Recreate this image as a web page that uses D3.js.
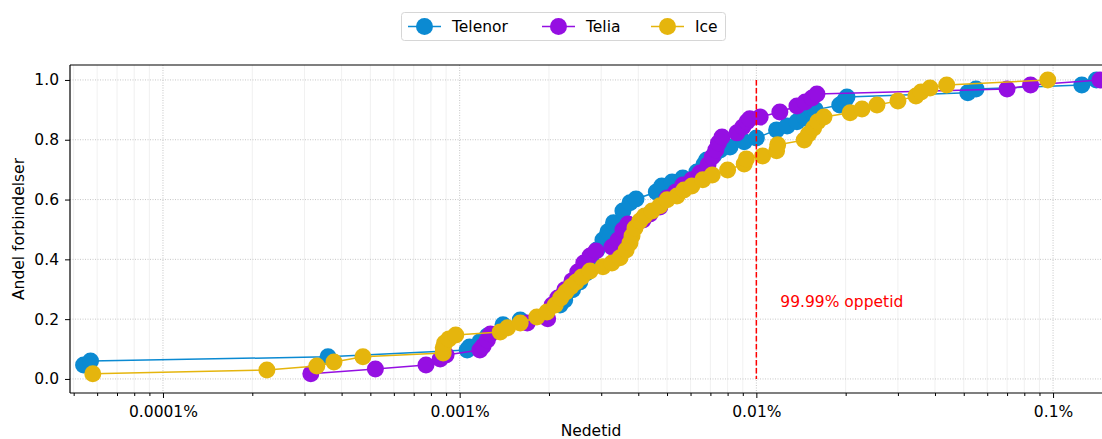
<!DOCTYPE html>
<html><head><meta charset="utf-8">
<script src="https://cdn.jsdelivr.net/npm/d3@7"></script>
<style>
body{margin:0;background:#fff;}
svg{display:block;font-family:"DejaVu Sans",sans-serif;overflow:hidden;}
</style></head><body>
<svg id="c" width="1102" height="439"></svg>
<script>
// Downtime (%) and cumulative share of connections
const telenorX = [5.4e-5,5.7e-5,3.6e-4,1.06e-3,1.08e-3,1.17e-3,1.24e-3,1.4e-3,1.6e-3,2.18e-3,2.26e-3,2.4e-3,2.54e-3,2.68e-3,2.79e-3,2.9e-3,3.04e-3,3.16e-3,3.3e-3,3.55e-3,3.75e-3,3.93e-3,4.6e-3,4.8e-3,5.2e-3,5.65e-3,6.3e-3,6.65e-3,6.8e-3,7.2e-3,7.55e-3,8.15e-3,9.1e-3,1.0e-2,1.17e-2,1.27e-2,1.37e-2,1.46e-2,1.55e-2,1.58e-2,1.91e-2,1.99e-2,2.02e-2,5.16e-2,5.5e-2,1.25e-1,1.4e-1];
const telenorY = [0.047,0.060,0.074,0.097,0.107,0.124,0.144,0.181,0.197,0.247,0.264,0.298,0.324,0.355,0.388,0.431,0.465,0.492,0.522,0.562,0.589,0.602,0.625,0.645,0.659,0.672,0.692,0.716,0.732,0.749,0.766,0.776,0.793,0.806,0.833,0.846,0.860,0.873,0.890,0.900,0.916,0.933,0.943,0.957,0.970,0.983,1.0];

const teliaX = [3.15e-4,5.2e-4,7.7e-4,8.6e-4,9.0e-4,1.17e-3,1.2e-3,1.24e-3,1.27e-3,1.69e-3,1.98e-3,2.05e-3,2.14e-3,2.26e-3,2.39e-3,2.5e-3,2.62e-3,2.75e-3,2.88e-3,3.26e-3,3.42e-3,3.55e-3,3.69e-3,4.15e-3,4.38e-3,4.73e-3,5.0e-3,5.35e-3,5.65e-3,6.06e-3,6.45e-3,6.87e-3,7.1e-3,7.3e-3,7.45e-3,7.66e-3,8.6e-3,9.0e-3,9.3e-3,9.5e-3,1.03e-2,1.2e-2,1.37e-2,1.46e-2,1.54e-2,1.6e-2,7.0e-2,8.4e-2,1.44e-1];
const teliaY = [0.017,0.033,0.047,0.067,0.080,0.097,0.110,0.130,0.150,0.187,0.201,0.247,0.271,0.298,0.328,0.358,0.388,0.411,0.428,0.441,0.465,0.498,0.518,0.532,0.552,0.575,0.605,0.625,0.649,0.666,0.689,0.716,0.742,0.766,0.789,0.809,0.823,0.843,0.860,0.870,0.876,0.893,0.913,0.926,0.940,0.953,0.970,0.983,1.0];

const iceX = [5.8e-5,2.24e-4,3.3e-4,3.77e-4,4.72e-4,8.8e-4,8.8e-4,8.9e-4,9.2e-4,9.7e-4,1.37e-3,1.45e-3,1.6e-3,1.82e-3,1.97e-3,2.1e-3,2.19e-3,2.28e-3,2.37e-3,2.47e-3,2.58e-3,2.75e-3,3.04e-3,3.26e-3,3.47e-3,3.64e-3,3.75e-3,3.81e-3,3.9e-3,4.05e-3,4.2e-3,4.45e-3,4.73e-3,5.0e-3,5.4e-3,5.7e-3,6.06e-3,6.6e-3,7.1e-3,8.0e-3,9.1e-3,9.25e-3,1.05e-2,1.17e-2,1.18e-2,1.45e-2,1.5e-2,1.56e-2,1.61e-2,1.69e-2,2.07e-2,2.27e-2,2.55e-2,3.0e-2,3.45e-2,3.59e-2,3.85e-2,4.38e-2,9.6e-2];
const iceY = [0.017,0.030,0.043,0.057,0.074,0.087,0.104,0.120,0.134,0.147,0.157,0.171,0.187,0.207,0.224,0.247,0.271,0.291,0.308,0.324,0.341,0.361,0.375,0.388,0.405,0.431,0.455,0.478,0.505,0.528,0.545,0.562,0.579,0.599,0.612,0.632,0.645,0.666,0.682,0.699,0.719,0.736,0.746,0.763,0.783,0.799,0.819,0.839,0.860,0.876,0.890,0.903,0.916,0.930,0.946,0.960,0.973,0.983,1.0];

const seriesNames = ["Telenor","Telia","Ice"];
const seriesColors = ["#0b8ad2","#950fe2","#e5b50d"];
const xTicks = [1e-4,1e-3,1e-2,1e-1];
const xTickLabels = ["0.0001%","0.001%","0.01%","0.1%"];
const yTicks = [0,0.2,0.4,0.6,0.8,1.0];
const threshold = 0.01;
const thresholdLabel = "99.99% oppetid";

const series = [
  {name:seriesNames[0], color:seriesColors[0], pts:telenorX.map((x,i)=>[x,telenorY[i]])},
  {name:seriesNames[1], color:seriesColors[1], pts:teliaX.map((x,i)=>[x,teliaY[i]])},
  {name:seriesNames[2], color:seriesColors[2], pts:iceX.map((x,i)=>[x,iceY[i]])}
];

const svg = d3.select("#c");
const m = {l:70, r:-2, t:65, b:46};
const W = 1102, H = 439;
const FS = 15.5;
const x = d3.scaleLog().domain([4.86e-5, 0.1485]).range([m.l, W - m.r]);
const y = d3.scaleLinear().domain([-0.047, 1.05]).range([H - m.b, m.t]);

const g = svg.append("g");
// minor grid
const minor = [];
for (let e=-5;e<=0;e++) for (let k=2;k<=9;k++){const v=k*Math.pow(10,e); if(v>x.domain()[0]&&v<x.domain()[1]) minor.push(v);}
g.selectAll(".mg").data(minor).enter().append("line")
 .attr("x1",d=>x(d)).attr("x2",d=>x(d)).attr("y1",m.t).attr("y2",H-m.b)
 .attr("stroke","#ececec").attr("stroke-width",0.8);
g.selectAll(".xg").data(xTicks).enter().append("line")
 .attr("x1",d=>x(d)).attr("x2",d=>x(d)).attr("y1",m.t).attr("y2",H-m.b)
 .attr("stroke","#b8b8b8").attr("stroke-width",0.8).attr("stroke-dasharray","1,1.5");
g.selectAll(".yg").data(yTicks).enter().append("line")
 .attr("x1",m.l).attr("x2",W).attr("y1",d=>y(d)).attr("y2",d=>y(d))
 .attr("stroke","#b8b8b8").attr("stroke-width",0.8).attr("stroke-dasharray","1,1.5");

// axes
const xAxis = d3.axisBottom(x).tickValues(xTicks).tickFormat((d,i)=>xTickLabels[i]).tickSize(5).tickPadding(8);
const xa = svg.append("g").attr("transform",`translate(0,${H-m.b})`).call(xAxis);
xa.selectAll("text").attr("font-size",FS).attr("fill","#000").attr("font-family","DejaVu Sans");
xa.select(".domain").remove();
const xMinor = d3.axisBottom(x).tickValues(minor).tickFormat("").tickSize(3);
const xm = svg.append("g").attr("transform",`translate(0,${H-m.b})`).call(xMinor);
xm.select(".domain").remove();
const yAxis = d3.axisLeft(y).tickValues(yTicks).tickFormat(d3.format(".1f")).tickSize(5).tickPadding(6);
const ya = svg.append("g").attr("transform",`translate(${m.l},0)`).call(yAxis);
ya.selectAll("text").attr("font-size",FS).attr("fill","#000").attr("font-family","DejaVu Sans");
ya.select(".domain").remove();

// series
const line = d3.line().x(d=>x(d[0])).y(d=>y(d[1]));
const plot = svg.append("g");
series.forEach(s=>{
  plot.append("path").datum(s.pts).attr("d",line).attr("fill","none").attr("stroke",s.color).attr("stroke-width",1.5);
  plot.selectAll(null).data(s.pts).enter().append("circle")
   .attr("cx",d=>x(d[0])).attr("cy",d=>y(d[1])).attr("r",8.5).attr("fill",s.color);
});

// threshold
svg.append("line").attr("x1",x(threshold)).attr("x2",x(threshold)).attr("y1",y(1)).attr("y2",y(0))
 .attr("stroke","#ff0000").attr("stroke-width",1.5).attr("stroke-dasharray","5.5,2.5");
svg.append("text").attr("x",x(threshold)+24).attr("y",y(0.24)).attr("fill","#ff0000")
 .attr("font-size",FS).text(thresholdLabel);

// spines
svg.append("line").attr("x1",m.l).attr("x2",m.l).attr("y1",m.t).attr("y2",H-m.b).attr("stroke","#000").attr("stroke-width",1.2);
svg.append("line").attr("x1",m.l).attr("x2",W).attr("y1",H-m.b).attr("y2",H-m.b).attr("stroke","#000").attr("stroke-width",1.2);
svg.append("line").attr("x1",m.l).attr("x2",W).attr("y1",m.t).attr("y2",m.t).attr("stroke","#000").attr("stroke-width",1.2);

// labels
svg.append("text").attr("x",591).attr("y",H-3).attr("text-anchor","middle").attr("font-size",FS).text("Nedetid");
svg.append("text").attr("transform",`translate(24,${(m.t+H-m.b)/2}) rotate(-90)`).attr("text-anchor","middle").attr("font-size",FS).text("Andel forbindelser");

// legend
const lg = svg.append("g");
lg.append("rect").attr("x",401.5).attr("y",12.5).attr("width",324).attr("height",28).attr("rx",3)
 .attr("fill","#fff").attr("stroke","#d6d6d6").attr("stroke-width",1);
const lx = [408, 542, 651];
series.forEach((s,i)=>{
  const gx = lx[i];
  lg.append("line").attr("x1",gx).attr("x2",gx+33).attr("y1",26.5).attr("y2",26.5).attr("stroke",s.color).attr("stroke-width",1.5);
  lg.append("circle").attr("cx",gx+16.5).attr("cy",26.5).attr("r",8.5).attr("fill",s.color);
  lg.append("text").attr("x",gx+44).attr("y",32).attr("font-size",FS).text(s.name);
});
</script></body></html>
